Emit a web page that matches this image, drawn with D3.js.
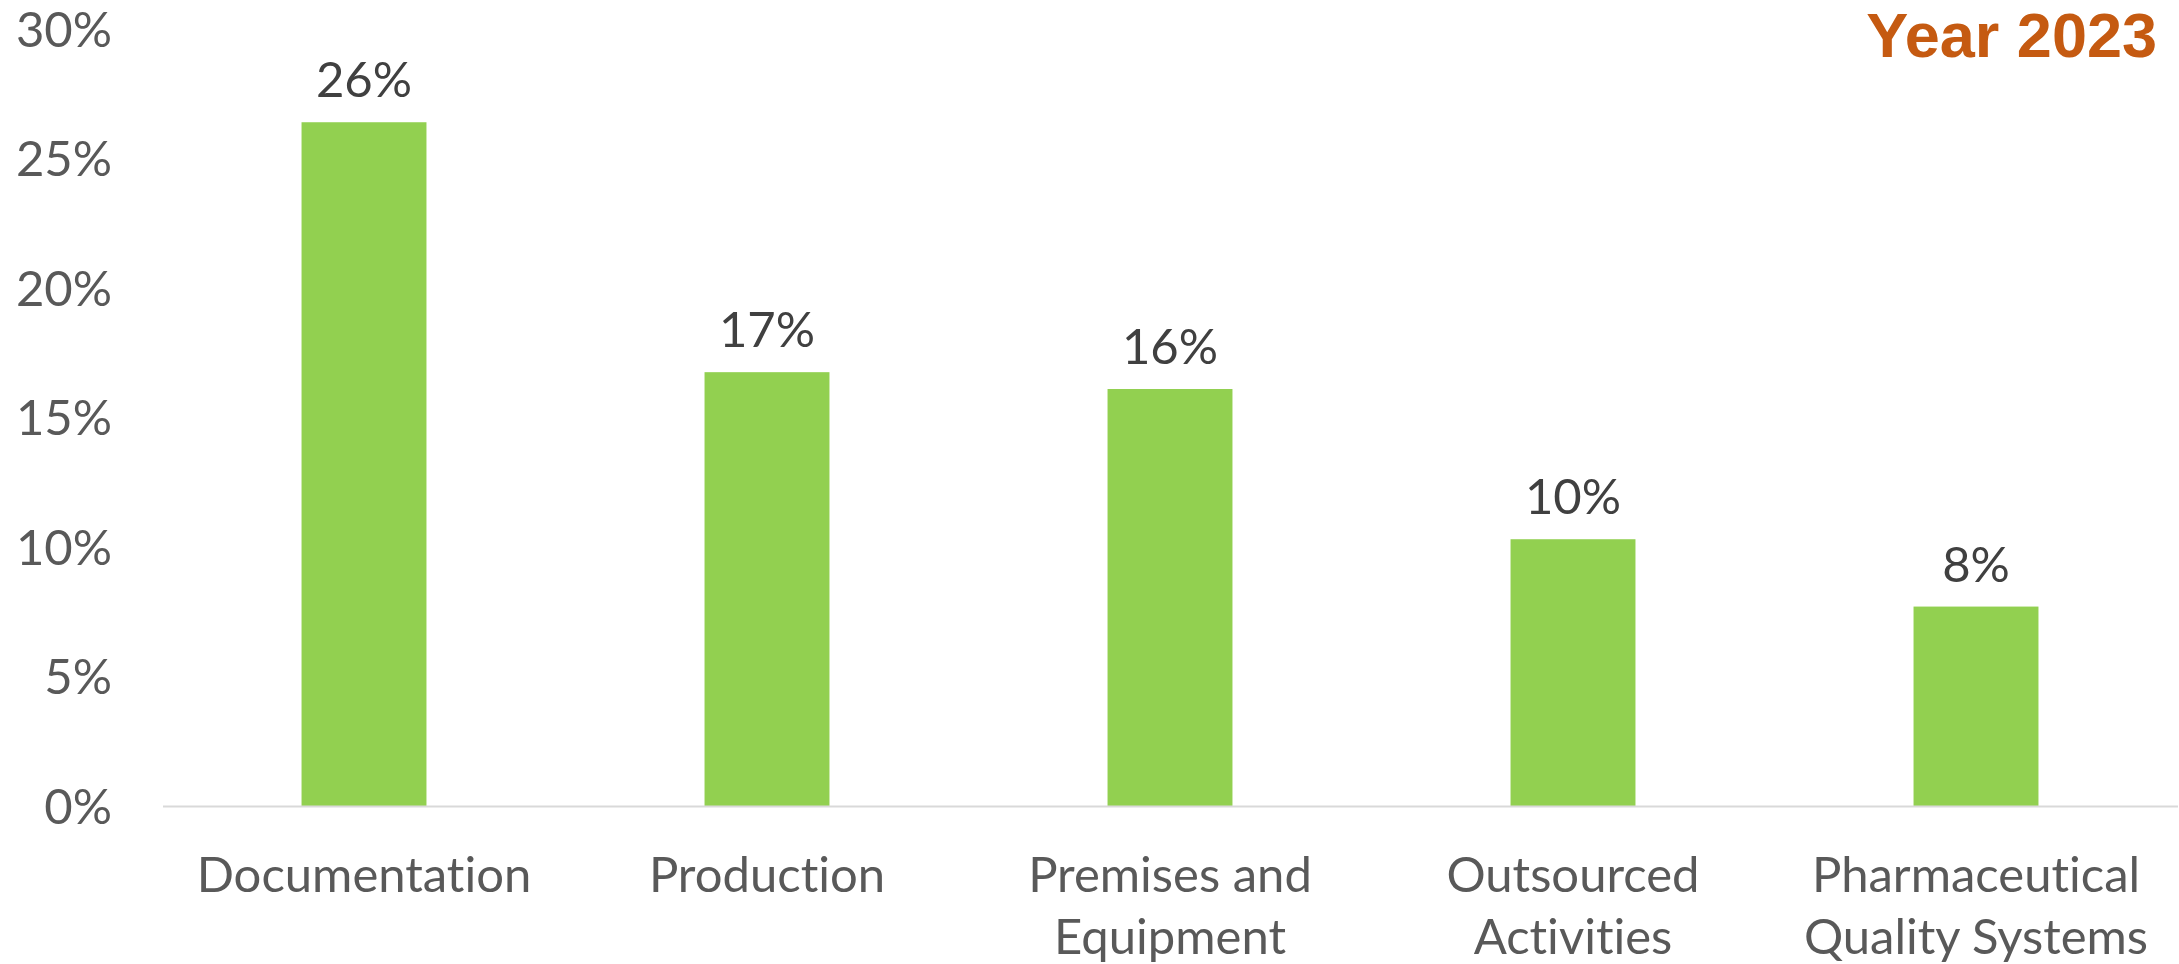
<!DOCTYPE html>
<html>
<head>
<meta charset="utf-8">
<script src="https://cdn.jsdelivr.net/npm/d3@7"></script>
<style>
  html, body { margin: 0; padding: 0; background: #fff; }
  svg { display: block; }
  text { font-variant-ligatures: none; font-feature-settings: "liga" 0, "clig" 0; }
</style>
</head>
<body>
<svg id="chart" width="2179" height="964"></svg>
<script>
const categories = ["Documentation", "Production", "Premises and\nEquipment", "Outsourced\nActivities", "Pharmaceutical\nQuality Systems"];
const values = [0.264, 0.1675, 0.161, 0.103, 0.077];
const valueLabels = ["26%", "17%", "16%", "10%", "8%"];
const yTicks = [0, 0.05, 0.10, 0.15, 0.20, 0.25, 0.30];
const title = "Year 2023";

const W = 2179, H = 964;
const svg = d3.select("#chart");
const labelFont = "Lato, 'Open Sans', sans-serif";

const x = d3.scaleBand()
  .domain(categories)
  .range([162.5, 2177.5])
  .paddingInner(0.69)
  .paddingOuter(0.345);

const y = d3.scaleLinear().domain([0, 0.30]).range([806, 29]);

// bars
svg.append("g").selectAll("rect")
  .data(categories)
  .join("rect")
  .attr("x", d => x(d))
  .attr("width", x.bandwidth())
  .attr("y", (d, i) => y(values[i]))
  .attr("height", (d, i) => y(0) - y(values[i]))
  .attr("fill", "#92D050");

// baseline axis
const xAxis = d3.axisBottom(x).tickSize(0).tickFormat("");
const gx = svg.append("g").attr("transform", `translate(0,${y(0)})`).call(xAxis);
gx.select(".domain").attr("stroke", "#D9D9D9").attr("stroke-width", 2);

// y axis labels
const yAxis = d3.axisLeft(y).tickValues(yTicks).tickSize(0).tickFormat(d3.format(".0%"));
const gy = svg.append("g").attr("transform", "translate(112,0)").call(yAxis);
gy.select(".domain").remove();
gy.selectAll("text")
  .attr("x", 0)
  .attr("dy", "0.35em")
  .attr("fill", "#595959")
  .style("font-family", labelFont)
  .style("font-size", "49px");

// value labels
svg.append("g").selectAll("text")
  .data(categories)
  .join("text")
  .attr("x", d => x(d) + x.bandwidth() / 2)
  .attr("y", (d, i) => y(values[i]) - 25)
  .attr("text-anchor", "middle")
  .attr("fill", "#404040")
  .style("font-family", labelFont)
  .style("font-size", "49px")
  .text((d, i) => valueLabels[i]);

// category labels
const cat = svg.append("g").selectAll("text")
  .data(categories)
  .join("text")
  .attr("x", d => x(d) + x.bandwidth() / 2)
  .attr("y", 892)
  .attr("text-anchor", "middle")
  .attr("fill", "#595959")
  .style("font-family", labelFont)
  .style("font-size", "49px");
cat.each(function(d) {
  const lines = d.split("\n");
  d3.select(this).selectAll("tspan")
    .data(lines)
    .join("tspan")
    .attr("x", x(d) + x.bandwidth() / 2)
    .attr("dy", (l, i) => i === 0 ? 0 : 62)
    .text(l => l);
});

// title
svg.append("text")
  .attr("x", 2157)
  .attr("y", 57)
  .attr("text-anchor", "end")
  .attr("fill", "#C55A11")
  .style("font-family", "'Liberation Sans', Arial, sans-serif")
  .style("font-weight", "bold")
  .style("font-size", "63px")
  .text(title);
</script>
</body>
</html>
